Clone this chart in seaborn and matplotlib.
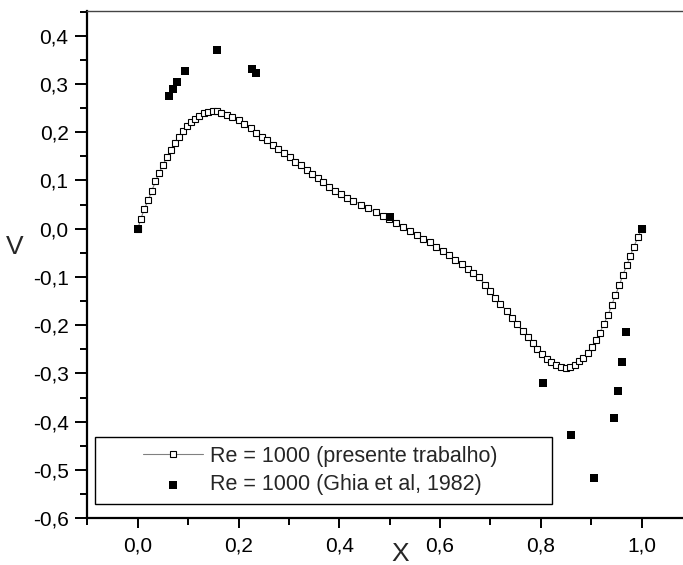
import numpy as np
import pandas as pd
import seaborn as sns
from matplotlib import pyplot as plt
from matplotlib import ticker
from matplotlib.patches import Rectangle

# present work, V along horizontal centreline
x_sim = [0.000, 0.006, 0.013, 0.021, 0.028, 0.035, 0.042, 0.050, 0.058, 0.065,
         0.073, 0.081, 0.089, 0.097, 0.105, 0.114, 0.122, 0.132, 0.140, 0.149,
         0.157, 0.166, 0.177, 0.187, 0.200, 0.211, 0.224, 0.235, 0.246, 0.257,
         0.268, 0.279, 0.290, 0.302, 0.313, 0.324, 0.335, 0.346, 0.357, 0.368,
         0.380, 0.391, 0.403, 0.415, 0.428, 0.444, 0.458, 0.472, 0.486, 0.499,
         0.513, 0.526, 0.540, 0.554, 0.567, 0.580, 0.592, 0.605, 0.618, 0.630,
         0.643, 0.655, 0.666, 0.678, 0.689, 0.699, 0.709, 0.720, 0.732, 0.742,
         0.752, 0.764, 0.774, 0.784, 0.793, 0.803, 0.812, 0.821, 0.831, 0.841,
         0.850, 0.859, 0.868, 0.876, 0.884, 0.893, 0.901, 0.909, 0.917, 0.925,
         0.934, 0.941, 0.948, 0.956, 0.963, 0.971, 0.978, 0.985, 0.993, 1.000]
v_sim = [0.000, 0.020, 0.041, 0.060, 0.079, 0.098, 0.115, 0.132, 0.149, 0.163,
         0.177, 0.190, 0.203, 0.212, 0.221, 0.228, 0.234, 0.239, 0.242, 0.243,
         0.243, 0.240, 0.236, 0.231, 0.225, 0.217, 0.208, 0.199, 0.191, 0.183,
         0.174, 0.165, 0.157, 0.148, 0.139, 0.131, 0.122, 0.114, 0.105, 0.096,
         0.087, 0.079, 0.071, 0.064, 0.058, 0.050, 0.043, 0.034, 0.027, 0.020,
         0.012, 0.003, -0.004, -0.013, -0.021, -0.028, -0.037, -0.046, -0.054, -0.064,
         -0.073, -0.083, -0.092, -0.101, -0.116, -0.130, -0.144, -0.156, -0.170, -0.184,
         -0.198, -0.211, -0.224, -0.237, -0.249, -0.260, -0.269, -0.276, -0.283, -0.287,
         -0.289, -0.287, -0.282, -0.275, -0.268, -0.258, -0.246, -0.231, -0.216, -0.198,
         -0.178, -0.158, -0.138, -0.117, -0.096, -0.075, -0.056, -0.037, -0.017, 0.000]

# Ghia et al (1982)
x_ghia = [0.0000, 0.0625, 0.0703, 0.0781, 0.0938, 0.1563, 0.2266, 0.2344, 0.5000,
          0.8047, 0.8594, 0.9063, 0.9453, 0.9531, 0.9609, 0.9688, 1.0000]
v_ghia = [0.000, 0.275, 0.290, 0.304, 0.326, 0.371, 0.331, 0.322, 0.025,
          -0.320, -0.427, -0.516, -0.392, -0.337, -0.277, -0.214, 0.000]

sim = pd.DataFrame({'X': x_sim, 'V': v_sim})
ghia = pd.DataFrame({'X': x_ghia, 'V': v_ghia})

sns.set_style('ticks')
plt.rcParams['font.family'] = ['Liberation Sans', 'DejaVu Sans']

fig = plt.figure(figsize=(6.83, 5.65), dpi=100)
ax = fig.add_axes([0.128, 0.0827, 0.885, 0.8973])

sns.lineplot(data=sim, x='X', y='V', ax=ax, color='gray', lw=0.8,
             marker='s', markersize=4.8, markerfacecolor='white',
             markeredgecolor='black', markeredgewidth=0.8,
             label='Re = 1000 (presente trabalho)')
sns.scatterplot(data=ghia, x='X', y='V', ax=ax, marker='s', color='black',
                s=27, linewidth=0, label='Re = 1000 (Ghia et al, 1982)', zorder=3)

ax.set_xlim(-0.1, 1.1)
ax.set_ylim(-0.6, 0.4505)

fmt = ticker.FuncFormatter(lambda v, p: f"{round(v, 2):.1f}".replace('.', ',').replace('-0,0', '0,0'))
ax.xaxis.set_major_locator(ticker.MultipleLocator(0.2))
ax.xaxis.set_minor_locator(ticker.MultipleLocator(0.1))
ax.yaxis.set_major_locator(ticker.MultipleLocator(0.1))
ax.yaxis.set_minor_locator(ticker.MultipleLocator(0.05))
ax.xaxis.set_major_formatter(fmt)
ax.yaxis.set_major_formatter(fmt)

ax.tick_params(axis='both', which='both', direction='out', color='black',
               labelsize=15, labelcolor='black')
ax.tick_params(axis='x', which='major', length=7, width=1.4, pad=6)
ax.tick_params(axis='y', which='major', length=8.6, width=1.4, pad=5)
ax.tick_params(axis='both', which='minor', length=5, width=1.4)

for s in ['left', 'bottom']:
    ax.spines[s].set_linewidth(1.6)
    ax.spines[s].set_color('black')
ax.spines['top'].set_linewidth(1.0)
ax.spines['top'].set_color('#444444')
ax.spines['right'].set_visible(False)

ax.set_xlabel('X', fontsize=19, va='center')
ax.set_ylabel('V', fontsize=19, rotation=0, va='center', ha='center')
ax.xaxis.set_label_coords(0.517, -0.071)
ax.yaxis.set_label_coords(-0.12, 0.535)

ax.legend(loc='center', bbox_to_anchor=(0.385, 0.094), frameon=False,
          fontsize=15.5, handlelength=2.8, handletextpad=0.3,
          labelspacing=0.35, scatterpoints=1)
ax.add_patch(Rectangle((0.0124, 0.028), 0.7556, 0.132, transform=ax.transAxes,
                       fill=False, lw=1.0, ec='black', zorder=5))

fig.savefig('out.png', dpi=100)
